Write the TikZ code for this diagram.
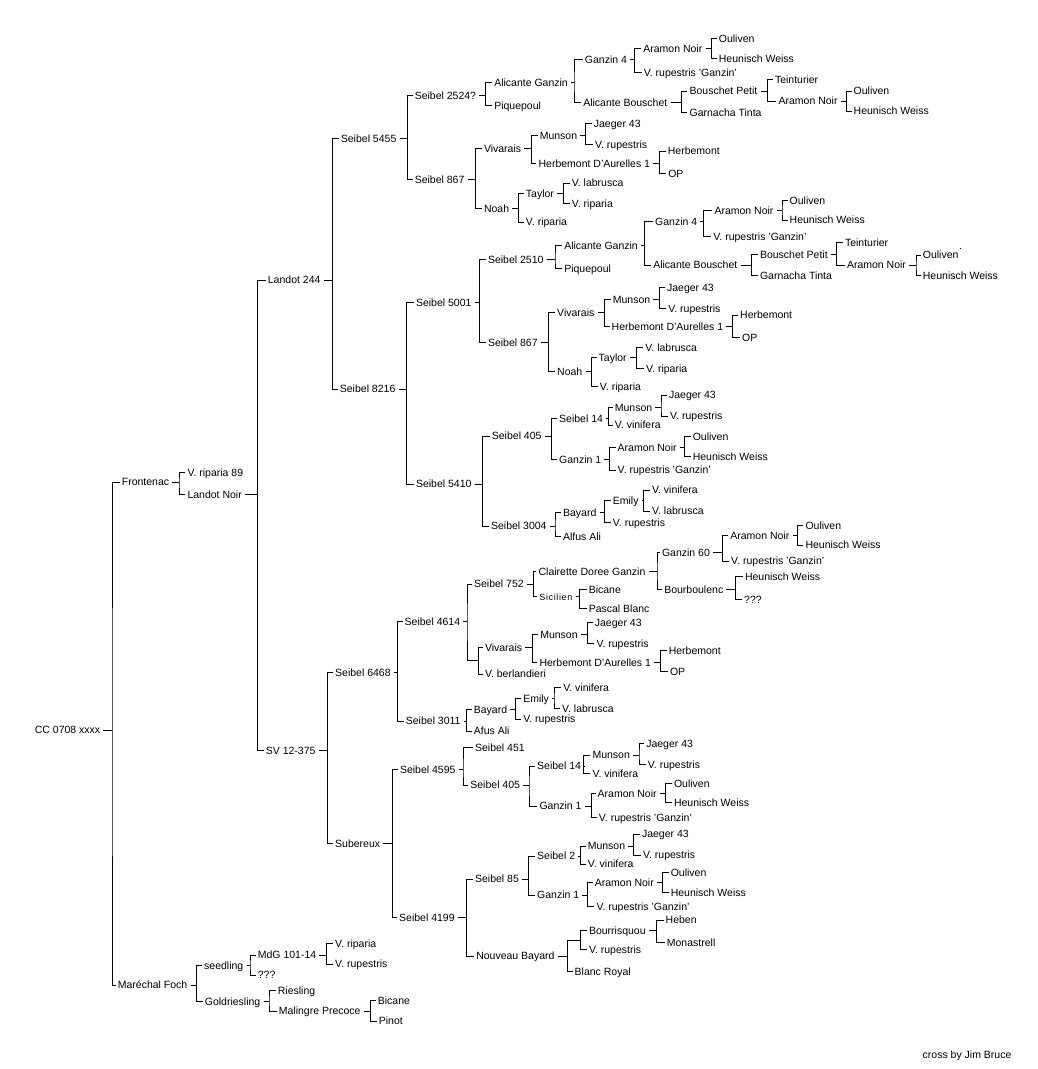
\documentclass[tikz,border=0pt]{standalone}
\usepackage{fontspec}
\setmainfont{Liberation Sans}
\tikzset{
  t/.style={anchor=west, inner sep=0pt, text height=7.5pt, text depth=0pt, font=\fontsize{10.5}{12}\selectfont},
  ts/.style={t, font=\fontsize{9}{10}\selectfont\addfontfeature{LetterSpace=7}},
  ln/.style={line width=0.9pt, black},
}
% parent, bracket x, child1, child2
\newcommand\pedig[4]{%
  \coordinate (#1B) at (#2,0);
  \draw[ln] ([xshift=3pt]#1.east) -- (#1.east -| #1B);
  \draw[ln] ([xshift=-2pt]#3.west) -| (#1.east -| #1B) |- ([xshift=-2pt]#4.west);
}
\begin{document}
\begin{tikzpicture}[x=1pt, y=-1pt]
\fill[white] (0,0) rectangle (1037,1069);
\useasboundingbox (0,0) rectangle (1037,1069);

% ---- left part
\node[t] (root) at (34.7,730) {CC 0708 xxxx};
\node[t] (fro) at (121.7,482) {Frontenac};
\node[t] (mf) at (117.7,985) {Maréchal Foch};
\pedig{root}{112}{fro}{mf}
\node[t] (vr89) at (187.3,472.3) {V. riparia 89};
\node[t] (ln) at (187.3,494.3) {Landot Noir};
\pedig{fro}{179}{vr89}{ln}
\node[t] (l244) at (267.7,280) {Landot 244};
\node[t] (sv) at (265.7,750.3) {SV 12-375};
\pedig{ln}{257.3}{l244}{sv}
\node[t] (s5455) at (340.7,138.3) {Seibel 5455};
\node[t] (s8216) at (339.7,389) {Seibel 8216};
\pedig{l244}{332.3}{s5455}{s8216}
\node[t] (s6468) at (335,672.3) {Seibel 6468};
\node[t] (sub) at (335,843.3) {Subereux};
\pedig{sv}{327.3}{s6468}{sub}

% ---- Marechal Foch
\node[t] (seed) at (204,965.3) {seedling};
\node[t] (gold) at (204.7,1001.3) {Goldriesling};
\pedig{mf}{196.7}{seed}{gold}
\node[t] (mdg) at (257.7,955) {MdG 101-14};
\node[t] (qa) at (257.7,975) {???};
\pedig{seed}{250}{mdg}{qa}
\node[t] (mdga) at (335,943.3) {V. riparia};
\node[t] (mdgb) at (335,964) {V. rupestris};
\pedig{mdg}{326.7}{mdga}{mdgb}
\node[t] (ries) at (277.7,990.3) {Riesling};
\node[t] (mal) at (278.7,1011) {Malingre Precoce};
\pedig{gold}{269}{ries}{mal}
\node[t] (bica) at (377.7,1000.3) {Bicane};
\node[t] (pin) at (378.7,1021) {Pinot};
\pedig{mal}{370.7}{bica}{pin}

% ---- Seibel 5455
\node[t] (s2524) at (414.6,95.7) {Seibel 2524?};
\node[t] (s867a) at (414.6,179.3) {Seibel 867};
\pedig{s5455}{407.3}{s2524}{s867a}
\node[t] (agA) at (494.1,82.3) {Alicante Ganzin};
\node[t] (pqA) at (494.1,105.7) {Piquepoul};
\pedig{s2524}{485.4}{agA}{pqA}
\node[t] (g4A) at (584.7,59.3) {Ganzin 4};
\node[t] (abA) at (583.1,102.3) {Alicante Bouschet};
\pedig{agA}{574}{g4A}{abA}
\node[t] (anA) at (643.2,48.3) {Aramon Noir};
\node[t] (vrgA) at (643.6,72.7) {V. rupestris 'Ganzin'};
\pedig{g4A}{634.5}{anA}{vrgA}
\node[t] (ouA) at (718.7,38.3) {Ouliven};
\node[t] (hwA) at (718.7,58.3) {Heunisch Weiss};
\pedig{anA}{711.6}{ouA}{hwA}
\node[t] (bpA) at (689.4,91) {Bouschet Petit};
\node[t] (gtA) at (689.4,112.3) {Garnacha Tinta};
\pedig{abA}{681.9}{bpA}{gtA}
\node[t] (teA) at (774.8,79.3) {Teinturier};
\node[t] (anB) at (778.4,101) {Aramon Noir};
\pedig{bpA}{767.7}{teA}{anB}
\node[t] (ouB) at (853.5,91) {Ouliven};
\node[t] (hwB) at (853.5,111) {Heunisch Weiss};
\pedig{anB}{846.8}{ouB}{hwB}
\node[t] (viA) at (483.8,148.3) {Vivarais};
\node[t] (noA) at (483.8,208.3) {Noah};
\pedig{s867a}{475.1}{viA}{noA}
\node[t] (muA) at (539.6,135.3) {Munson};
\node[t] (hdA) at (538.4,163.3) {Herbemont D'Aurelles 1};
\pedig{viA}{531.3}{muA}{hdA}
\node[t] (jaA) at (593.7,123.3) {Jaeger 43};
\node[t] (rpA) at (594.9,144.3) {V. rupestris};
\pedig{muA}{585.8}{jaA}{rpA}
\node[t] (heA) at (667.7,151) {Herbemont};
\node[t] (opA) at (668.1,173.3) {OP};
\pedig{hdA}{659.4}{heA}{opA}
\node[t] (taA) at (525.7,193.3) {Taylor};
\node[t] (ripA) at (525.7,222) {V. riparia};
\pedig{noA}{518.6}{taA}{ripA}
\node[t] (laA) at (571.6,183) {V. labrusca};
\node[t] (riA) at (571.6,203.7) {V. riparia};
\pedig{taA}{563.3}{laA}{riA}

% ---- Seibel 8216
\node[t] (s5001) at (415.8,302.3) {Seibel 5001};
\node[t] (s5410) at (415.8,484) {Seibel 5410};
\pedig{s8216}{406.3}{s5001}{s5410}
\node[t] (s2510) at (487.8,259.3) {Seibel 2510};
\node[t] (s867b) at (487.8,342.7) {Seibel 867};
\pedig{s5001}{479.1}{s2510}{s867b}
\node[t] (agB) at (564.1,245.7) {Alicante Ganzin};
\node[t] (pqB) at (564.1,268.3) {Piquepoul};
\pedig{s2510}{555}{agB}{pqB}
\node[t] (g4B) at (655,221.7) {Ganzin 4};
\node[t] (abB) at (653.1,265) {Alicante Bouschet};
\pedig{agB}{644.4}{g4B}{abB}
\node[t] (anC) at (714.3,210.3) {Aramon Noir};
\node[t] (vrgB) at (713.2,236.7) {V. rupestris 'Ganzin'};
\pedig{g4B}{703.7}{anC}{vrgB}
\node[t] (ouC) at (789.5,200.3) {Ouliven};
\node[t] (hwC) at (789.5,220) {Heunisch Weiss};
\pedig{anC}{782}{ouC}{hwC}
\node[t] (bpB) at (759.8,254.3) {Bouschet Petit};
\node[t] (gtB) at (759.8,275.3) {Garnacha Tinta};
\pedig{abB}{751.5}{bpB}{gtB}
\node[t] (teB) at (844.8,242.3) {Teinturier};
\node[t] (anD) at (846.8,265) {Aramon Noir};
\pedig{bpB}{836.9}{teB}{anD}
\node[t] (ouD) at (922.7,255) {Ouliven};
\node[t] (hwD) at (922.7,275.3) {Heunisch Weiss};
\pedig{anD}{916}{ouD}{hwD}
\fill (959.8,247.8) rectangle (961,249);
\node[t] (viB) at (557,312.3) {Vivarais};
\node[t] (noB) at (557,371.7) {Noah};
\pedig{s867b}{548.7}{viB}{noB}
\node[t] (muB) at (612.7,299.3) {Munson};
\node[t] (hdB) at (611.5,326.7) {Herbemont D'Aurelles 1};
\pedig{viB}{604.4}{muB}{hdB}
\node[t] (jaB) at (666.9,287.3) {Jaeger 43};
\node[t] (rpB) at (668.1,308.3) {V. rupestris};
\pedig{muB}{659.8}{jaB}{rpB}
\node[t] (heB) at (740,315) {Herbemont};
\node[t] (opB) at (742,337.3) {OP};
\pedig{hdB}{732.1}{heB}{opB}
\node[t] (taB) at (598.5,357.7) {Taylor};
\node[t] (ripB) at (599.7,386.7) {V. riparia};
\pedig{noB}{591.4}{taB}{ripB}
\node[t] (laB) at (645.2,347.3) {V. labrusca};
\node[t] (riB) at (646,368.3) {V. riparia};
\pedig{taB}{636.5}{laB}{riB}

% ---- Seibel 5410
\node[t] (s405a) at (491.7,436) {Seibel 405};
\node[t] (s3004) at (490.9,526) {Seibel 3004};
\pedig{s5410}{482.2}{s405a}{s3004}
\node[t] (s14a) at (559,418.3) {Seibel 14};
\node[t] (g1a) at (559,459.3) {Ganzin 1};
\pedig{s405a}{551.4}{s14a}{g1a}
\node[t] (muC) at (614.7,407.3) {Munson};
\node[t] (vvA) at (614.7,425) {V. vinifera};
\pedig{s14a}{608.4}{muC}{vvA}
\node[t] (jaC) at (668.9,395) {Jaeger 43};
\node[t] (rpC) at (670,416) {V. rupestris};
\pedig{muC}{661}{jaC}{rpC}
\node[t] (anE) at (617.5,447.3) {Aramon Noir};
\node[t] (vrgC) at (617.5,470) {V. rupestris 'Ganzin'};
\pedig{g1a}{609.6}{anE}{vrgC}
\node[t] (ouE) at (692.6,436.7) {Ouliven};
\node[t] (hwE) at (692.6,456.7) {Heunisch Weiss};
\pedig{anE}{684.7}{ouE}{hwE}
\node[t] (bayA) at (562.9,512.3) {Bayard};
\node[t] (alf) at (562.9,536.7) {Alfus Ali};
\pedig{s3004}{555}{bayA}{alf}
\node[t] (emA) at (612.7,500.7) {Emily};
\node[t] (rpD) at (612.7,522.3) {V. rupestris};
\pedig{bayA}{604.8}{emA}{rpD}
\node[t] (vvB) at (651.9,490) {V. vinifera};
\node[t] (laC) at (651.9,511) {V. labrusca};
\pedig{emA}{643.2}{vvB}{laC}

% ---- Seibel 6468
\node[t] (s4614) at (404.5,621.7) {Seibel 4614};
\node[t] (s3011) at (405.7,721) {Seibel 3011};
\pedig{s6468}{397.3}{s4614}{s3011}
\node[t] (s752) at (473.9,584) {Seibel 752};
\coordinate (jA) at (480.1,660);
\pedig{s4614}{467}{s752}{jA}
\node[t] (viC) at (484.8,647.7) {Vivarais};
\node[t] (vb) at (484.8,674) {V. berlandieri};
\draw[ln] ([xshift=-2pt]viC.west) -| ([xshift=-2pt]jA) |- ([xshift=-2pt]vb.west);
\node[t] (cdg) at (538.4,571.7) {Clairette Doree Ganzin};
\node[ts] (sic) at (539.2,596.7) {Sicilien};
\pedig{s752}{533.3}{cdg}{sic}
\node[t] (g60) at (661.8,552.3) {Ganzin 60};
\node[t] (bou) at (664.1,589.3) {Bourboulenc};
\pedig{cdg}{657}{g60}{bou}
\node[t] (anF) at (730.2,535.7) {Aramon Noir};
\node[t] (vrgD) at (731,561) {V. rupestris 'Ganzin'};
\pedig{g60}{722.3}{anF}{vrgD}
\node[t] (ouF) at (805.3,525.7) {Ouliven};
\node[t] (hwF) at (805.3,545) {Heunisch Weiss};
\pedig{anF}{797.4}{ouF}{hwF}
\node[t] (hwG) at (744.8,576.7) {Heunisch Weiss};
\node[t] (qb) at (744,599.3) {???};
\pedig{bou}{735.3}{hwG}{qb}
\node[t] (bicb) at (588.6,589.3) {Bicane};
\node[t] (pas) at (588.6,608.3) {Pascal Blanc};
\pedig{sic}{579.9}{bicb}{pas}
\node[t] (muD) at (540.1,634.3) {Munson};
\node[t] (hdC) at (539.3,662.3) {Herbemont D'Aurelles 1};
\pedig{viC}{532.2}{muD}{hdC}
\node[t] (jaD) at (594.7,622.3) {Jaeger 43};
\node[t] (rpE) at (596.3,643.3) {V. rupestris};
\pedig{muD}{587.6}{jaD}{rpE}
\node[t] (heC) at (668.6,650.7) {Herbemont};
\node[t] (opC) at (669.8,671.7) {OP};
\pedig{hdC}{660.7}{heC}{opC}
\node[t] (bayB) at (473.7,709.3) {Bayard};
\node[t] (afu) at (473.7,731) {Afus Ali};
\pedig{s3011}{466.2}{bayB}{afu}
\node[t] (emB) at (523.1,698.3) {Emily};
\node[t] (rpF) at (523.1,719) {V. rupestris};
\pedig{bayB}{515.6}{emB}{rpF}
\node[t] (vvC) at (563.1,687.3) {V. vinifera};
\node[t] (laD) at (561.9,708.3) {V. labrusca};
\pedig{emB}{554}{vvC}{laD}

% ---- Subereux
\node[t] (s4595) at (399.8,769.3) {Seibel 4595};
\node[t] (s4199) at (399,917.7) {Seibel 4199};
\pedig{sub}{392.3}{s4595}{s4199}
\node[t] (s451) at (474.9,747.7) {Seibel 451};
\node[t] (s405b) at (470.2,785) {Seibel 405};
\pedig{s4595}{463}{s451}{s405b}
\node[t] (s14b) at (537,766) {Seibel 14};
\node[t] (g1b) at (539.3,806) {Ganzin 1};
\pedig{s405b}{529}{s14b}{g1b}
\node[t] (muE) at (592.3,755) {Munson};
\node[t] (vvD) at (592.3,773.3) {V. vinifera};
\pedig{s14b}{583.6}{muE}{vvD}
\node[t] (jaE) at (646.1,743.3) {Jaeger 43};
\node[t] (rpG) at (647.7,764.3) {V. rupestris};
\pedig{muE}{639}{jaE}{rpG}
\node[t] (anG) at (597.5,793.3) {Aramon Noir};
\node[t] (vrgE) at (598.7,817.3) {V. rupestris 'Ganzin'};
\pedig{g1b}{591.5}{anG}{vrgE}
\node[t] (ouG) at (673.8,783.3) {Ouliven};
\node[t] (hwH) at (673.8,802.7) {Heunisch Weiss};
\pedig{anG}{665.5}{ouG}{hwH}
\node[t] (s85) at (474.9,879) {Seibel 85};
\node[t] (nb) at (476.1,956) {Nouveau Bayard};
\pedig{s4199}{466.2}{s85}{nb}
\node[t] (s2) at (537,856) {Seibel 2};
\node[t] (g1c) at (537,895) {Ganzin 1};
\pedig{s85}{528.3}{s2}{g1c}
\node[t] (muF) at (587.6,846) {Munson};
\node[t] (vvE) at (587.6,864) {V. vinifera};
\pedig{s2}{580.9}{muF}{vvE}
\node[t] (jaF) at (641.8,834) {Jaeger 43};
\node[t] (rpH) at (642.9,855) {V. rupestris};
\pedig{muF}{633.1}{jaF}{rpH}
\node[t] (anH) at (594.7,882.3) {Aramon Noir};
\node[t] (vrgF) at (596.3,906.7) {V. rupestris 'Ganzin'};
\pedig{g1c}{587.6}{anH}{vrgF}
\node[t] (ouH) at (670.6,872.3) {Ouliven};
\node[t] (hwI) at (670.6,892.3) {Heunisch Weiss};
\pedig{anH}{662.7}{ouH}{hwI}
\coordinate (jB) at (582.9,940);
\node[t] (blr) at (574.5,971.3) {Blanc Royal};
\pedig{nb}{567.4}{jB}{blr}
\node[t] (bour) at (588.8,930.7) {Bourrisquou};
\node[t] (rpI) at (588.8,949.3) {V. rupestris};
\draw[ln] ([xshift=-2pt]bour.west) -| ([xshift=-2pt]jB) |- ([xshift=-2pt]rpI.west);
\node[t] (heb) at (665.5,920) {Heben};
\node[t] (mon) at (666.7,942.3) {Monastrell};
\pedig{bour}{656.8}{heb}{mon}

\node[t] (cred) at (922.5,1055) {cross by Jim Bruce};
\end{tikzpicture}
\end{document}
